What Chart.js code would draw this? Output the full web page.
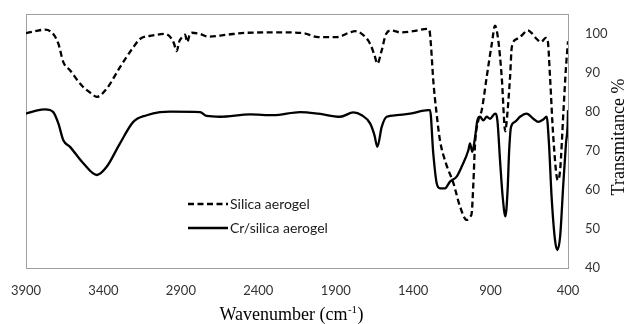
<!DOCTYPE html>
<html><head><meta charset="utf-8">
<script src="https://cdn.jsdelivr.net/npm/chart.js@4.4.1/dist/chart.umd.min.js"></script>
<style>html,body{margin:0;padding:0;background:#fff}#wrap{width:626px;height:324px;position:relative}</style>
</head><body><div id="wrap"><canvas id="c" width="626" height="324"></canvas></div>
<script>
const xTicks = [3900, 3400, 2900, 2400, 1900, 1400, 900, 400];
const yTicks = [40, 50, 60, 70, 80, 90, 100];
const seriesNames = ['Silica aerogel', 'Cr/silica aerogel'];
const xTitleMain = 'Wavenumber (cm';
const xTitleSup = '-1';
const xTitleEnd = ')';
const yTitle = 'Transmitance %';

const silicaWn = [3900,3840,3777,3724,3691,3659,3616,3540,3476,3443,3379,3293,3207,3164,3080,3002,2970,2945,2927,2910,2894,2873,2858,2845,2830,2776,2723,2604,2475,2238,2109,2012,1969,1893,1808,1775,1732,1678,1650,1631,1603,1575,1538,1485,1399,1312,1295,1285,1270,1250,1226,1190,1140,1097,1054,1030,1022,1011,1000,979,957,925,892,871,850,828,805,795,774,763,731,699,660,634,602,574,544,531,516,495,466,451,429,413,400];
const silicaT  = [100.1,100.6,101,99.9,97.4,92.7,90.6,86.7,84.6,83.8,85.9,91.4,96.5,98.6,99.5,99.9,99.2,97.5,95.5,98,99,99.7,97.8,99.5,100.2,99.9,99.2,99.7,100.2,100.3,100.1,99.1,99.1,99.1,100.3,100.6,99.9,97.4,94.5,92.3,95.7,99.9,100.8,100.3,100.6,101.2,100.8,97,88,80,72.5,67,61.7,55.7,52.3,53.2,54,61.7,71.9,77.8,80.4,88.9,97.4,102,98.2,88.9,75,78,89,96.5,98.6,99.5,100.8,100.1,98.6,97.8,98.9,98.2,88.9,73.5,62.5,65,80.4,91.4,98];

const crWn = [3900,3840,3777,3724,3691,3659,3616,3530,3443,3379,3293,3207,3120,3035,2970,2776,2733,2647,2453,2303,2130,2012,1872,1786,1732,1678,1650,1631,1603,1571,1506,1420,1302,1291,1270,1248,1226,1194,1162,1119,1087,1043,1033,1018,1000,985,968,947,925,903,871,856,839,822,804,790,780,768,742,710,667,624,592,560,538,523,506,484,469,451,430,413,402,400];
const crT  = [79.5,80.2,80.6,79.9,77,72.7,71,66.8,63.8,65.9,71.9,77.4,79.1,79.9,80,79.9,78.9,78.7,79.3,79.1,79.9,79.5,78.7,79.8,79.1,77,74,71,76.1,78.7,79.1,79.5,80.4,80.4,69.3,61.7,60.4,60.4,62.1,63.4,65.9,70.2,71.9,69.7,73.5,77.8,78.7,77.8,78.7,78.2,79.5,77.8,67.6,58.3,53.2,60,70,76.1,77.4,78.7,79.5,78.2,77.4,78,78.7,71.9,58.3,47.2,44.6,48,61.7,71.9,77,80.4];

const toPts = (xs, ys) => xs.map((x, i) => ({x: x, y: ys[i]}));

const boxPlugin = {
  id: 'box',
  beforeDatasetsDraw(chart) {
    const a = chart.chartArea, ctx = chart.ctx;
    ctx.save();
    ctx.strokeStyle = '#a0a0a0';
    ctx.lineWidth = 1;
    ctx.strokeRect(Math.round(a.left) + 0.5, Math.round(a.top) + 0.5, Math.round(a.right - a.left), Math.round(a.bottom - a.top));
    ctx.restore();
  },
  afterDraw(chart) {
    const ctx = chart.ctx;
    ctx.save();
    ctx.fillStyle = '#000';
    ctx.textBaseline = 'alphabetic';
    ctx.textAlign = 'left';
    const mainFont = '18px "Liberation Serif", "Times New Roman", serif';
    const supFont = '11px "Liberation Serif", "Times New Roman", serif';
    ctx.font = mainFont; const w1 = ctx.measureText(xTitleMain).width; const w3 = ctx.measureText(xTitleEnd).width;
    ctx.font = supFont; const w2 = ctx.measureText(xTitleSup).width;
    const tot = w1 + w2 + w3;
    let x0 = 291 - tot / 2; const base = 320;
    ctx.font = mainFont; ctx.fillText(xTitleMain, x0, base);
    ctx.font = supFont; ctx.fillText(xTitleSup, x0 + w1 + 0.5, base - 7);
    ctx.font = mainFont; ctx.fillText(xTitleEnd, x0 + w1 + w2 + 1, base);
    ctx.translate(619, 137);
    ctx.rotate(-Math.PI / 2);
    ctx.textAlign = 'center';
    ctx.textBaseline = 'middle';
    ctx.font = mainFont;
    ctx.fillText(yTitle, 0, 0);
    ctx.restore();
    ctx.save();
    chart.data.datasets.forEach((ds, i) => {
      const y = 204 + i * 24;
      ctx.strokeStyle = ds.borderColor;
      ctx.lineWidth = ds.borderWidth;
      ctx.setLineDash(ds.borderDash || []);
      ctx.beginPath(); ctx.moveTo(188, y); ctx.lineTo(228, y); ctx.stroke();
      ctx.setLineDash([]);
      ctx.fillStyle = '#1a1a1a';
      ctx.font = '14px Lato, "Open Sans", sans-serif';
      ctx.textAlign = 'left'; ctx.textBaseline = 'middle';
      ctx.fillText(ds.label, 230, y);
    });
    ctx.restore();
  }
};

new Chart(document.getElementById('c'), {
  type: 'line',
  data: {
    datasets: [
      { label: seriesNames[0], data: toPts(silicaWn, silicaT), borderColor: '#000', borderWidth: 2.3, borderDash: [6, 3.5], pointRadius: 0, fill: false, cubicInterpolationMode: 'monotone' },
      { label: seriesNames[1], data: toPts(crWn, crT), borderColor: '#000', borderWidth: 2.3, pointRadius: 0, fill: false, cubicInterpolationMode: 'monotone' }
    ]
  },
  options: {
    responsive: false,
    animation: false,
    layout: { padding: { left: 26, top: 14, right: 0, bottom: 0 } },
    plugins: { legend: { display: false }, tooltip: { enabled: false } },
    scales: {
      x: {
        type: 'linear', reverse: true, min: 400, max: 3900,
        afterBuildTicks: s => { s.ticks = xTicks.map(v => ({ value: v })); },
        afterFit: s => { s.height = 56; s.paddingLeft = 0; s.paddingRight = 0; },
        grid: { display: false }, border: { display: false },
        ticks: { color: '#333', font: { family: 'Lato', size: 13 }, padding: 7, maxRotation: 0, autoSkip: false, callback: v => String(v) }
      },
      y: {
        position: 'right', min: 40, max: 105,
        afterBuildTicks: s => { s.ticks = yTicks.map(v => ({ value: v })); },
        afterFit: s => { s.width = 58; s.paddingTop = 0; s.paddingBottom = 0; },
        grid: { display: false }, border: { display: false },
        ticks: { color: '#333', font: { family: 'Lato', size: 13 }, padding: 9, callback: v => String(v) }
      }
    }
  },
  plugins: [boxPlugin]
});
</script></body></html>
